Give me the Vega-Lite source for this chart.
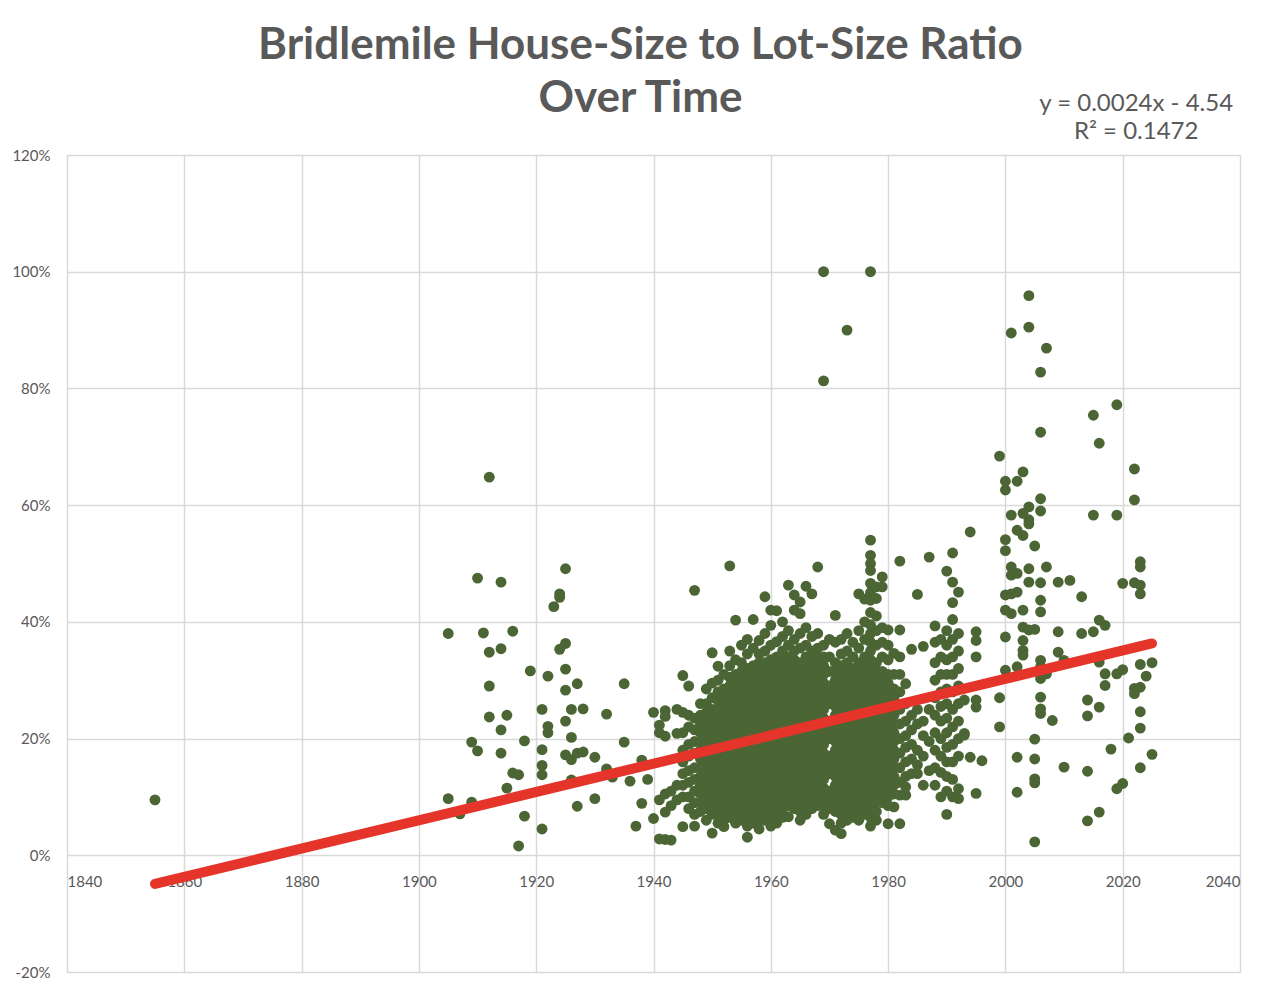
{
  "$schema": "https://vega.github.io/schema/vega-lite/v6.json",
  "width": 1173,
  "height": 817,
  "autosize": {"type": "none"},
  "padding": {"left": 67, "top": 155, "right": 44, "bottom": 20},
  "background": "white",
  "title": {
    "text": ["Bridlemile House-Size to Lot-Size Ratio", "Over Time"],
    "anchor": "middle",
    "dx": -13,
    "offset": -29,
    "font": "Lato",
    "fontSize": 44,
    "fontWeight": "bold",
    "color": "#595959",
    "lineHeight": 53
  },
  "datasets": {
    "points": [
      {"year":1855,"ratio":0.095},
      {"year":1905,"ratio":0.38},{"year":1905,"ratio":0.097},
      {"year":1907,"ratio":0.071},
      {"year":1909,"ratio":0.194},{"year":1909,"ratio":0.091},
      {"year":1910,"ratio":0.475},{"year":1910,"ratio":0.179},
      {"year":1911,"ratio":0.381},
      {"year":1912,"ratio":0.648},{"year":1912,"ratio":0.348},{"year":1912,"ratio":0.29},{"year":1912,"ratio":0.237},
      {"year":1914,"ratio":0.468},{"year":1914,"ratio":0.354},{"year":1914,"ratio":0.215},{"year":1914,"ratio":0.175},
      {"year":1915,"ratio":0.24},{"year":1915,"ratio":0.115},
      {"year":1916,"ratio":0.384},{"year":1916,"ratio":0.141},
      {"year":1917,"ratio":0.138},{"year":1917,"ratio":0.016},
      {"year":1918,"ratio":0.196},{"year":1918,"ratio":0.067},
      {"year":1919,"ratio":0.316},
      {"year":1921,"ratio":0.25},{"year":1921,"ratio":0.181},{"year":1921,"ratio":0.154},{"year":1921,"ratio":0.138},{"year":1921,"ratio":0.045},
      {"year":1922,"ratio":0.307},{"year":1922,"ratio":0.221},{"year":1922,"ratio":0.21},
      {"year":1923,"ratio":0.426},
      {"year":1924,"ratio":0.448},{"year":1924,"ratio":0.442},{"year":1924,"ratio":0.353},
      {"year":1925,"ratio":0.491},{"year":1925,"ratio":0.363},{"year":1925,"ratio":0.319},{"year":1925,"ratio":0.283},{"year":1925,"ratio":0.23},{"year":1925,"ratio":0.172},
      {"year":1926,"ratio":0.25},{"year":1926,"ratio":0.202},{"year":1926,"ratio":0.164},{"year":1926,"ratio":0.129},
      {"year":1927,"ratio":0.294},{"year":1927,"ratio":0.175},{"year":1927,"ratio":0.084},
      {"year":1928,"ratio":0.251},{"year":1928,"ratio":0.177},
      {"year":1930,"ratio":0.168},{"year":1930,"ratio":0.097},
      {"year":1932,"ratio":0.242},{"year":1932,"ratio":0.148},
      {"year":1933,"ratio":0.134},
      {"year":1935,"ratio":0.294},{"year":1935,"ratio":0.194},
      {"year":1936,"ratio":0.127},
      {"year":1937,"ratio":0.05},
      {"year":1938,"ratio":0.163},{"year":1938,"ratio":0.089},
      {"year":1939,"ratio":0.13},
      {"year":1940,"ratio":0.245},{"year":1940,"ratio":0.063},
      {"year":1941,"ratio":0.223},{"year":1941,"ratio":0.21},{"year":1941,"ratio":0.095},{"year":1941,"ratio":0.028},
      {"year":1942,"ratio":0.248},{"year":1942,"ratio":0.238},{"year":1942,"ratio":0.204},{"year":1942,"ratio":0.105},{"year":1942,"ratio":0.074},{"year":1942,"ratio":0.027},
      {"year":1943,"ratio":0.11},{"year":1943,"ratio":0.085},{"year":1943,"ratio":0.026},
      {"year":1944,"ratio":0.25},{"year":1944,"ratio":0.209},{"year":1944,"ratio":0.12},{"year":1944,"ratio":0.095},
      {"year":1945,"ratio":0.308},{"year":1945,"ratio":0.245},{"year":1945,"ratio":0.21},{"year":1945,"ratio":0.18},{"year":1945,"ratio":0.16},{"year":1945,"ratio":0.14},{"year":1945,"ratio":0.12},{"year":1945,"ratio":0.10},{"year":1945,"ratio":0.049},
      {"year":1946,"ratio":0.29},{"year":1946,"ratio":0.24},{"year":1946,"ratio":0.22},{"year":1946,"ratio":0.19},{"year":1946,"ratio":0.17},{"year":1946,"ratio":0.145},{"year":1946,"ratio":0.125},{"year":1946,"ratio":0.10},{"year":1946,"ratio":0.08},
      {"year":1947,"ratio":0.454},{"year":1947,"ratio":0.235},{"year":1947,"ratio":0.215},{"year":1947,"ratio":0.195},{"year":1947,"ratio":0.175},{"year":1947,"ratio":0.15},{"year":1947,"ratio":0.13},{"year":1947,"ratio":0.11},{"year":1947,"ratio":0.09},{"year":1947,"ratio":0.07},{"year":1947,"ratio":0.05},
      {"year":1948,"ratio":0.075},{"year":1948,"ratio":0.09},{"year":1948,"ratio":0.105},{"year":1948,"ratio":0.12},{"year":1948,"ratio":0.135},{"year":1948,"ratio":0.15},{"year":1948,"ratio":0.165},{"year":1948,"ratio":0.18},{"year":1948,"ratio":0.195},{"year":1948,"ratio":0.21},{"year":1948,"ratio":0.225},{"year":1948,"ratio":0.24},{"year":1948,"ratio":0.26},
      {"year":1949,"ratio":0.06},{"year":1949,"ratio":0.08},{"year":1949,"ratio":0.095},{"year":1949,"ratio":0.11},{"year":1949,"ratio":0.125},{"year":1949,"ratio":0.14},{"year":1949,"ratio":0.155},{"year":1949,"ratio":0.17},{"year":1949,"ratio":0.185},{"year":1949,"ratio":0.20},{"year":1949,"ratio":0.215},{"year":1949,"ratio":0.23},{"year":1949,"ratio":0.245},{"year":1949,"ratio":0.26},{"year":1949,"ratio":0.285},
      {"year":1950,"ratio":0.038},{"year":1950,"ratio":0.07},{"year":1950,"ratio":0.085},{"year":1950,"ratio":0.10},{"year":1950,"ratio":0.115},{"year":1950,"ratio":0.13},{"year":1950,"ratio":0.145},{"year":1950,"ratio":0.16},{"year":1950,"ratio":0.175},{"year":1950,"ratio":0.19},{"year":1950,"ratio":0.205},{"year":1950,"ratio":0.22},{"year":1950,"ratio":0.235},{"year":1950,"ratio":0.25},{"year":1950,"ratio":0.27},{"year":1950,"ratio":0.295},{"year":1950,"ratio":0.347},
      {"year":1951,"ratio":0.055},{"year":1951,"ratio":0.07},{"year":1951,"ratio":0.085},{"year":1951,"ratio":0.10},{"year":1951,"ratio":0.115},{"year":1951,"ratio":0.13},{"year":1951,"ratio":0.145},{"year":1951,"ratio":0.16},{"year":1951,"ratio":0.175},{"year":1951,"ratio":0.19},{"year":1951,"ratio":0.205},{"year":1951,"ratio":0.22},{"year":1951,"ratio":0.235},{"year":1951,"ratio":0.25},{"year":1951,"ratio":0.265},{"year":1951,"ratio":0.28},{"year":1951,"ratio":0.30},{"year":1951,"ratio":0.324},
      {"year":1952,"ratio":0.049},{"year":1952,"ratio":0.06},{"year":1952,"ratio":0.075},{"year":1952,"ratio":0.09},{"year":1952,"ratio":0.105},{"year":1952,"ratio":0.12},{"year":1952,"ratio":0.135},{"year":1952,"ratio":0.15},{"year":1952,"ratio":0.165},{"year":1952,"ratio":0.18},{"year":1952,"ratio":0.195},{"year":1952,"ratio":0.21},{"year":1952,"ratio":0.225},{"year":1952,"ratio":0.24},{"year":1952,"ratio":0.255},{"year":1952,"ratio":0.27},{"year":1952,"ratio":0.285},{"year":1952,"ratio":0.31},
      {"year":1953,"ratio":0.065},{"year":1953,"ratio":0.08},{"year":1953,"ratio":0.095},{"year":1953,"ratio":0.11},{"year":1953,"ratio":0.125},{"year":1953,"ratio":0.14},{"year":1953,"ratio":0.155},{"year":1953,"ratio":0.17},{"year":1953,"ratio":0.185},{"year":1953,"ratio":0.20},{"year":1953,"ratio":0.215},{"year":1953,"ratio":0.23},{"year":1953,"ratio":0.245},{"year":1953,"ratio":0.26},{"year":1953,"ratio":0.275},{"year":1953,"ratio":0.29},{"year":1953,"ratio":0.305},{"year":1953,"ratio":0.325},{"year":1953,"ratio":0.35},{"year":1953,"ratio":0.496},
      {"year":1954,"ratio":0.055},{"year":1954,"ratio":0.07},{"year":1954,"ratio":0.085},{"year":1954,"ratio":0.10},{"year":1954,"ratio":0.115},{"year":1954,"ratio":0.13},{"year":1954,"ratio":0.145},{"year":1954,"ratio":0.16},{"year":1954,"ratio":0.175},{"year":1954,"ratio":0.19},{"year":1954,"ratio":0.205},{"year":1954,"ratio":0.22},{"year":1954,"ratio":0.235},{"year":1954,"ratio":0.25},{"year":1954,"ratio":0.265},{"year":1954,"ratio":0.28},{"year":1954,"ratio":0.295},{"year":1954,"ratio":0.31},{"year":1954,"ratio":0.335},{"year":1954,"ratio":0.403},
      {"year":1955,"ratio":0.06},{"year":1955,"ratio":0.075},{"year":1955,"ratio":0.09},{"year":1955,"ratio":0.105},{"year":1955,"ratio":0.12},{"year":1955,"ratio":0.135},{"year":1955,"ratio":0.15},{"year":1955,"ratio":0.165},{"year":1955,"ratio":0.18},{"year":1955,"ratio":0.195},{"year":1955,"ratio":0.21},{"year":1955,"ratio":0.225},{"year":1955,"ratio":0.24},{"year":1955,"ratio":0.255},{"year":1955,"ratio":0.27},{"year":1955,"ratio":0.285},{"year":1955,"ratio":0.30},{"year":1955,"ratio":0.315},{"year":1955,"ratio":0.33},{"year":1955,"ratio":0.36},
      {"year":1956,"ratio":0.031},{"year":1956,"ratio":0.05},{"year":1956,"ratio":0.065},{"year":1956,"ratio":0.08},{"year":1956,"ratio":0.095},{"year":1956,"ratio":0.11},{"year":1956,"ratio":0.125},{"year":1956,"ratio":0.14},{"year":1956,"ratio":0.155},{"year":1956,"ratio":0.17},{"year":1956,"ratio":0.185},{"year":1956,"ratio":0.20},{"year":1956,"ratio":0.215},{"year":1956,"ratio":0.23},{"year":1956,"ratio":0.245},{"year":1956,"ratio":0.26},{"year":1956,"ratio":0.275},{"year":1956,"ratio":0.29},{"year":1956,"ratio":0.305},{"year":1956,"ratio":0.32},{"year":1956,"ratio":0.345},{"year":1956,"ratio":0.37},
      {"year":1957,"ratio":0.055},{"year":1957,"ratio":0.07},{"year":1957,"ratio":0.085},{"year":1957,"ratio":0.10},{"year":1957,"ratio":0.115},{"year":1957,"ratio":0.13},{"year":1957,"ratio":0.145},{"year":1957,"ratio":0.16},{"year":1957,"ratio":0.175},{"year":1957,"ratio":0.19},{"year":1957,"ratio":0.205},{"year":1957,"ratio":0.22},{"year":1957,"ratio":0.235},{"year":1957,"ratio":0.25},{"year":1957,"ratio":0.265},{"year":1957,"ratio":0.28},{"year":1957,"ratio":0.295},{"year":1957,"ratio":0.31},{"year":1957,"ratio":0.325},{"year":1957,"ratio":0.355},{"year":1957,"ratio":0.404},
      {"year":1958,"ratio":0.045},{"year":1958,"ratio":0.06},{"year":1958,"ratio":0.075},{"year":1958,"ratio":0.09},{"year":1958,"ratio":0.105},{"year":1958,"ratio":0.12},{"year":1958,"ratio":0.135},{"year":1958,"ratio":0.15},{"year":1958,"ratio":0.165},{"year":1958,"ratio":0.18},{"year":1958,"ratio":0.195},{"year":1958,"ratio":0.21},{"year":1958,"ratio":0.225},{"year":1958,"ratio":0.24},{"year":1958,"ratio":0.255},{"year":1958,"ratio":0.27},{"year":1958,"ratio":0.285},{"year":1958,"ratio":0.30},{"year":1958,"ratio":0.315},{"year":1958,"ratio":0.33},{"year":1958,"ratio":0.345},{"year":1958,"ratio":0.368},
      {"year":1959,"ratio":0.06},{"year":1959,"ratio":0.075},{"year":1959,"ratio":0.09},{"year":1959,"ratio":0.105},{"year":1959,"ratio":0.12},{"year":1959,"ratio":0.135},{"year":1959,"ratio":0.15},{"year":1959,"ratio":0.165},{"year":1959,"ratio":0.18},{"year":1959,"ratio":0.195},{"year":1959,"ratio":0.21},{"year":1959,"ratio":0.225},{"year":1959,"ratio":0.24},{"year":1959,"ratio":0.255},{"year":1959,"ratio":0.27},{"year":1959,"ratio":0.285},{"year":1959,"ratio":0.30},{"year":1959,"ratio":0.315},{"year":1959,"ratio":0.33},{"year":1959,"ratio":0.35},{"year":1959,"ratio":0.38},{"year":1959,"ratio":0.443},
      {"year":1960,"ratio":0.05},{"year":1960,"ratio":0.065},{"year":1960,"ratio":0.08},{"year":1960,"ratio":0.095},{"year":1960,"ratio":0.11},{"year":1960,"ratio":0.125},{"year":1960,"ratio":0.14},{"year":1960,"ratio":0.155},{"year":1960,"ratio":0.17},{"year":1960,"ratio":0.185},{"year":1960,"ratio":0.20},{"year":1960,"ratio":0.215},{"year":1960,"ratio":0.23},{"year":1960,"ratio":0.245},{"year":1960,"ratio":0.26},{"year":1960,"ratio":0.275},{"year":1960,"ratio":0.29},{"year":1960,"ratio":0.305},{"year":1960,"ratio":0.32},{"year":1960,"ratio":0.335},{"year":1960,"ratio":0.36},{"year":1960,"ratio":0.394},{"year":1960,"ratio":0.42},
      {"year":1961,"ratio":0.055},{"year":1961,"ratio":0.07},{"year":1961,"ratio":0.085},{"year":1961,"ratio":0.10},{"year":1961,"ratio":0.115},{"year":1961,"ratio":0.13},{"year":1961,"ratio":0.145},{"year":1961,"ratio":0.16},{"year":1961,"ratio":0.175},{"year":1961,"ratio":0.19},{"year":1961,"ratio":0.205},{"year":1961,"ratio":0.22},{"year":1961,"ratio":0.235},{"year":1961,"ratio":0.25},{"year":1961,"ratio":0.265},{"year":1961,"ratio":0.28},{"year":1961,"ratio":0.295},{"year":1961,"ratio":0.31},{"year":1961,"ratio":0.325},{"year":1961,"ratio":0.34},{"year":1961,"ratio":0.366},{"year":1961,"ratio":0.419},
      {"year":1962,"ratio":0.065},{"year":1962,"ratio":0.08},{"year":1962,"ratio":0.095},{"year":1962,"ratio":0.11},{"year":1962,"ratio":0.125},{"year":1962,"ratio":0.14},{"year":1962,"ratio":0.155},{"year":1962,"ratio":0.17},{"year":1962,"ratio":0.185},{"year":1962,"ratio":0.20},{"year":1962,"ratio":0.215},{"year":1962,"ratio":0.23},{"year":1962,"ratio":0.245},{"year":1962,"ratio":0.26},{"year":1962,"ratio":0.275},{"year":1962,"ratio":0.29},{"year":1962,"ratio":0.305},{"year":1962,"ratio":0.32},{"year":1962,"ratio":0.335},{"year":1962,"ratio":0.35},{"year":1962,"ratio":0.375},{"year":1962,"ratio":0.40},
      {"year":1963,"ratio":0.066},{"year":1963,"ratio":0.085},{"year":1963,"ratio":0.10},{"year":1963,"ratio":0.115},{"year":1963,"ratio":0.13},{"year":1963,"ratio":0.145},{"year":1963,"ratio":0.16},{"year":1963,"ratio":0.175},{"year":1963,"ratio":0.19},{"year":1963,"ratio":0.205},{"year":1963,"ratio":0.22},{"year":1963,"ratio":0.235},{"year":1963,"ratio":0.25},{"year":1963,"ratio":0.265},{"year":1963,"ratio":0.28},{"year":1963,"ratio":0.295},{"year":1963,"ratio":0.31},{"year":1963,"ratio":0.325},{"year":1963,"ratio":0.34},{"year":1963,"ratio":0.36},{"year":1963,"ratio":0.385},{"year":1963,"ratio":0.463},
      {"year":1964,"ratio":0.08},{"year":1964,"ratio":0.095},{"year":1964,"ratio":0.11},{"year":1964,"ratio":0.125},{"year":1964,"ratio":0.14},{"year":1964,"ratio":0.155},{"year":1964,"ratio":0.17},{"year":1964,"ratio":0.185},{"year":1964,"ratio":0.20},{"year":1964,"ratio":0.215},{"year":1964,"ratio":0.23},{"year":1964,"ratio":0.245},{"year":1964,"ratio":0.26},{"year":1964,"ratio":0.275},{"year":1964,"ratio":0.29},{"year":1964,"ratio":0.305},{"year":1964,"ratio":0.32},{"year":1964,"ratio":0.335},{"year":1964,"ratio":0.35},{"year":1964,"ratio":0.37},{"year":1964,"ratio":0.42},{"year":1964,"ratio":0.446},
      {"year":1965,"ratio":0.06},{"year":1965,"ratio":0.075},{"year":1965,"ratio":0.09},{"year":1965,"ratio":0.105},{"year":1965,"ratio":0.12},{"year":1965,"ratio":0.135},{"year":1965,"ratio":0.15},{"year":1965,"ratio":0.165},{"year":1965,"ratio":0.18},{"year":1965,"ratio":0.195},{"year":1965,"ratio":0.21},{"year":1965,"ratio":0.225},{"year":1965,"ratio":0.24},{"year":1965,"ratio":0.255},{"year":1965,"ratio":0.27},{"year":1965,"ratio":0.285},{"year":1965,"ratio":0.30},{"year":1965,"ratio":0.315},{"year":1965,"ratio":0.33},{"year":1965,"ratio":0.355},{"year":1965,"ratio":0.38},{"year":1965,"ratio":0.414},{"year":1965,"ratio":0.434},
      {"year":1966,"ratio":0.07},{"year":1966,"ratio":0.085},{"year":1966,"ratio":0.10},{"year":1966,"ratio":0.115},{"year":1966,"ratio":0.13},{"year":1966,"ratio":0.145},{"year":1966,"ratio":0.16},{"year":1966,"ratio":0.175},{"year":1966,"ratio":0.19},{"year":1966,"ratio":0.205},{"year":1966,"ratio":0.22},{"year":1966,"ratio":0.235},{"year":1966,"ratio":0.25},{"year":1966,"ratio":0.265},{"year":1966,"ratio":0.28},{"year":1966,"ratio":0.295},{"year":1966,"ratio":0.31},{"year":1966,"ratio":0.325},{"year":1966,"ratio":0.34},{"year":1966,"ratio":0.36},{"year":1966,"ratio":0.39},{"year":1966,"ratio":0.461},
      {"year":1967,"ratio":0.08},{"year":1967,"ratio":0.095},{"year":1967,"ratio":0.11},{"year":1967,"ratio":0.125},{"year":1967,"ratio":0.14},{"year":1967,"ratio":0.155},{"year":1967,"ratio":0.17},{"year":1967,"ratio":0.185},{"year":1967,"ratio":0.20},{"year":1967,"ratio":0.215},{"year":1967,"ratio":0.23},{"year":1967,"ratio":0.245},{"year":1967,"ratio":0.26},{"year":1967,"ratio":0.275},{"year":1967,"ratio":0.29},{"year":1967,"ratio":0.305},{"year":1967,"ratio":0.32},{"year":1967,"ratio":0.335},{"year":1967,"ratio":0.35},{"year":1967,"ratio":0.375},{"year":1967,"ratio":0.448},
      {"year":1968,"ratio":0.085},{"year":1968,"ratio":0.10},{"year":1968,"ratio":0.115},{"year":1968,"ratio":0.13},{"year":1968,"ratio":0.145},{"year":1968,"ratio":0.16},{"year":1968,"ratio":0.175},{"year":1968,"ratio":0.19},{"year":1968,"ratio":0.205},{"year":1968,"ratio":0.22},{"year":1968,"ratio":0.235},{"year":1968,"ratio":0.25},{"year":1968,"ratio":0.265},{"year":1968,"ratio":0.28},{"year":1968,"ratio":0.295},{"year":1968,"ratio":0.31},{"year":1968,"ratio":0.325},{"year":1968,"ratio":0.34},{"year":1968,"ratio":0.355},{"year":1968,"ratio":0.38},{"year":1968,"ratio":0.494},
      {"year":1969,"ratio":0.07},{"year":1969,"ratio":0.085},{"year":1969,"ratio":0.10},{"year":1969,"ratio":0.115},{"year":1969,"ratio":0.13},{"year":1969,"ratio":0.145},{"year":1969,"ratio":0.16},{"year":1969,"ratio":0.175},{"year":1969,"ratio":0.19},{"year":1969,"ratio":0.205},{"year":1969,"ratio":0.22},{"year":1969,"ratio":0.235},{"year":1969,"ratio":0.25},{"year":1969,"ratio":0.265},{"year":1969,"ratio":0.28},{"year":1969,"ratio":0.295},{"year":1969,"ratio":0.31},{"year":1969,"ratio":0.325},{"year":1969,"ratio":0.34},{"year":1969,"ratio":0.36},{"year":1969,"ratio":0.813},{"year":1969,"ratio":1.0},
      {"year":1970,"ratio":0.054},{"year":1970,"ratio":0.08},{"year":1970,"ratio":0.095},{"year":1970,"ratio":0.11},{"year":1970,"ratio":0.14},{"year":1970,"ratio":0.155},{"year":1970,"ratio":0.17},{"year":1970,"ratio":0.20},{"year":1970,"ratio":0.215},{"year":1970,"ratio":0.23},{"year":1970,"ratio":0.26},{"year":1970,"ratio":0.275},{"year":1970,"ratio":0.29},{"year":1970,"ratio":0.315},{"year":1970,"ratio":0.34},{"year":1970,"ratio":0.37},
      {"year":1971,"ratio":0.043},{"year":1971,"ratio":0.075},{"year":1971,"ratio":0.09},{"year":1971,"ratio":0.105},{"year":1971,"ratio":0.12},{"year":1971,"ratio":0.135},{"year":1971,"ratio":0.15},{"year":1971,"ratio":0.165},{"year":1971,"ratio":0.18},{"year":1971,"ratio":0.195},{"year":1971,"ratio":0.21},{"year":1971,"ratio":0.225},{"year":1971,"ratio":0.24},{"year":1971,"ratio":0.255},{"year":1971,"ratio":0.27},{"year":1971,"ratio":0.285},{"year":1971,"ratio":0.30},{"year":1971,"ratio":0.315},{"year":1971,"ratio":0.33},{"year":1971,"ratio":0.365},{"year":1971,"ratio":0.411},
      {"year":1972,"ratio":0.037},{"year":1972,"ratio":0.055},{"year":1972,"ratio":0.07},{"year":1972,"ratio":0.085},{"year":1972,"ratio":0.10},{"year":1972,"ratio":0.115},{"year":1972,"ratio":0.13},{"year":1972,"ratio":0.145},{"year":1972,"ratio":0.16},{"year":1972,"ratio":0.175},{"year":1972,"ratio":0.19},{"year":1972,"ratio":0.205},{"year":1972,"ratio":0.22},{"year":1972,"ratio":0.235},{"year":1972,"ratio":0.25},{"year":1972,"ratio":0.265},{"year":1972,"ratio":0.28},{"year":1972,"ratio":0.295},{"year":1972,"ratio":0.31},{"year":1972,"ratio":0.325},{"year":1972,"ratio":0.345},{"year":1972,"ratio":0.37},
      {"year":1973,"ratio":0.06},{"year":1973,"ratio":0.075},{"year":1973,"ratio":0.09},{"year":1973,"ratio":0.105},{"year":1973,"ratio":0.12},{"year":1973,"ratio":0.135},{"year":1973,"ratio":0.15},{"year":1973,"ratio":0.165},{"year":1973,"ratio":0.18},{"year":1973,"ratio":0.195},{"year":1973,"ratio":0.21},{"year":1973,"ratio":0.225},{"year":1973,"ratio":0.24},{"year":1973,"ratio":0.255},{"year":1973,"ratio":0.27},{"year":1973,"ratio":0.285},{"year":1973,"ratio":0.30},{"year":1973,"ratio":0.315},{"year":1973,"ratio":0.33},{"year":1973,"ratio":0.35},{"year":1973,"ratio":0.38},{"year":1973,"ratio":0.90},
      {"year":1974,"ratio":0.065},{"year":1974,"ratio":0.08},{"year":1974,"ratio":0.095},{"year":1974,"ratio":0.11},{"year":1974,"ratio":0.125},{"year":1974,"ratio":0.14},{"year":1974,"ratio":0.155},{"year":1974,"ratio":0.17},{"year":1974,"ratio":0.185},{"year":1974,"ratio":0.20},{"year":1974,"ratio":0.215},{"year":1974,"ratio":0.23},{"year":1974,"ratio":0.245},{"year":1974,"ratio":0.26},{"year":1974,"ratio":0.275},{"year":1974,"ratio":0.29},{"year":1974,"ratio":0.305},{"year":1974,"ratio":0.32},{"year":1974,"ratio":0.34},{"year":1974,"ratio":0.365},
      {"year":1975,"ratio":0.06},{"year":1975,"ratio":0.075},{"year":1975,"ratio":0.09},{"year":1975,"ratio":0.105},{"year":1975,"ratio":0.12},{"year":1975,"ratio":0.135},{"year":1975,"ratio":0.15},{"year":1975,"ratio":0.165},{"year":1975,"ratio":0.18},{"year":1975,"ratio":0.195},{"year":1975,"ratio":0.21},{"year":1975,"ratio":0.225},{"year":1975,"ratio":0.24},{"year":1975,"ratio":0.255},{"year":1975,"ratio":0.27},{"year":1975,"ratio":0.285},{"year":1975,"ratio":0.30},{"year":1975,"ratio":0.315},{"year":1975,"ratio":0.33},{"year":1975,"ratio":0.355},{"year":1975,"ratio":0.385},{"year":1975,"ratio":0.448},
      {"year":1976,"ratio":0.07},{"year":1976,"ratio":0.085},{"year":1976,"ratio":0.10},{"year":1976,"ratio":0.115},{"year":1976,"ratio":0.13},{"year":1976,"ratio":0.145},{"year":1976,"ratio":0.16},{"year":1976,"ratio":0.175},{"year":1976,"ratio":0.19},{"year":1976,"ratio":0.205},{"year":1976,"ratio":0.22},{"year":1976,"ratio":0.235},{"year":1976,"ratio":0.25},{"year":1976,"ratio":0.265},{"year":1976,"ratio":0.28},{"year":1976,"ratio":0.295},{"year":1976,"ratio":0.31},{"year":1976,"ratio":0.325},{"year":1976,"ratio":0.34},{"year":1976,"ratio":0.37},{"year":1976,"ratio":0.40},{"year":1976,"ratio":0.439},
      {"year":1977,"ratio":1.0},{"year":1977,"ratio":0.54},{"year":1977,"ratio":0.514},{"year":1977,"ratio":0.50},{"year":1977,"ratio":0.488},{"year":1977,"ratio":0.466},{"year":1977,"ratio":0.45},{"year":1977,"ratio":0.437},{"year":1977,"ratio":0.416},{"year":1977,"ratio":0.395},{"year":1977,"ratio":0.38},{"year":1977,"ratio":0.365},{"year":1977,"ratio":0.35},{"year":1977,"ratio":0.335},{"year":1977,"ratio":0.32},{"year":1977,"ratio":0.305},{"year":1977,"ratio":0.29},{"year":1977,"ratio":0.275},{"year":1977,"ratio":0.26},{"year":1977,"ratio":0.245},{"year":1977,"ratio":0.23},{"year":1977,"ratio":0.215},{"year":1977,"ratio":0.20},{"year":1977,"ratio":0.185},{"year":1977,"ratio":0.17},{"year":1977,"ratio":0.155},{"year":1977,"ratio":0.14},{"year":1977,"ratio":0.125},{"year":1977,"ratio":0.11},{"year":1977,"ratio":0.095},{"year":1977,"ratio":0.08},{"year":1977,"ratio":0.065},{"year":1977,"ratio":0.05},
      {"year":1978,"ratio":0.06},{"year":1978,"ratio":0.075},{"year":1978,"ratio":0.09},{"year":1978,"ratio":0.105},{"year":1978,"ratio":0.12},{"year":1978,"ratio":0.135},{"year":1978,"ratio":0.15},{"year":1978,"ratio":0.165},{"year":1978,"ratio":0.18},{"year":1978,"ratio":0.195},{"year":1978,"ratio":0.21},{"year":1978,"ratio":0.225},{"year":1978,"ratio":0.24},{"year":1978,"ratio":0.255},{"year":1978,"ratio":0.27},{"year":1978,"ratio":0.285},{"year":1978,"ratio":0.30},{"year":1978,"ratio":0.315},{"year":1978,"ratio":0.33},{"year":1978,"ratio":0.36},{"year":1978,"ratio":0.385},{"year":1978,"ratio":0.41},{"year":1978,"ratio":0.44},{"year":1978,"ratio":0.46},
      {"year":1979,"ratio":0.09},{"year":1979,"ratio":0.105},{"year":1979,"ratio":0.12},{"year":1979,"ratio":0.135},{"year":1979,"ratio":0.15},{"year":1979,"ratio":0.165},{"year":1979,"ratio":0.18},{"year":1979,"ratio":0.195},{"year":1979,"ratio":0.21},{"year":1979,"ratio":0.225},{"year":1979,"ratio":0.24},{"year":1979,"ratio":0.255},{"year":1979,"ratio":0.27},{"year":1979,"ratio":0.285},{"year":1979,"ratio":0.30},{"year":1979,"ratio":0.315},{"year":1979,"ratio":0.34},{"year":1979,"ratio":0.365},{"year":1979,"ratio":0.39},{"year":1979,"ratio":0.46},{"year":1979,"ratio":0.477},
      {"year":1980,"ratio":0.054},{"year":1980,"ratio":0.085},{"year":1980,"ratio":0.10},{"year":1980,"ratio":0.115},{"year":1980,"ratio":0.13},{"year":1980,"ratio":0.145},{"year":1980,"ratio":0.16},{"year":1980,"ratio":0.175},{"year":1980,"ratio":0.19},{"year":1980,"ratio":0.205},{"year":1980,"ratio":0.22},{"year":1980,"ratio":0.235},{"year":1980,"ratio":0.25},{"year":1980,"ratio":0.265},{"year":1980,"ratio":0.28},{"year":1980,"ratio":0.295},{"year":1980,"ratio":0.31},{"year":1980,"ratio":0.335},{"year":1980,"ratio":0.36},{"year":1980,"ratio":0.386},
      {"year":1981,"ratio":0.083},{"year":1981,"ratio":0.105},{"year":1981,"ratio":0.12},{"year":1981,"ratio":0.135},{"year":1981,"ratio":0.15},{"year":1981,"ratio":0.165},{"year":1981,"ratio":0.18},{"year":1981,"ratio":0.195},{"year":1981,"ratio":0.21},{"year":1981,"ratio":0.225},{"year":1981,"ratio":0.24},{"year":1981,"ratio":0.255},{"year":1981,"ratio":0.27},{"year":1981,"ratio":0.285},{"year":1981,"ratio":0.31},{"year":1981,"ratio":0.346},
      {"year":1982,"ratio":0.504},{"year":1982,"ratio":0.386},{"year":1982,"ratio":0.34},{"year":1982,"ratio":0.31},{"year":1982,"ratio":0.28},{"year":1982,"ratio":0.25},{"year":1982,"ratio":0.225},{"year":1982,"ratio":0.20},{"year":1982,"ratio":0.175},{"year":1982,"ratio":0.15},{"year":1982,"ratio":0.125},{"year":1982,"ratio":0.103},{"year":1982,"ratio":0.054},
      {"year":1983,"ratio":0.294},{"year":1983,"ratio":0.26},{"year":1983,"ratio":0.23},{"year":1983,"ratio":0.205},{"year":1983,"ratio":0.185},{"year":1983,"ratio":0.16},{"year":1983,"ratio":0.135},{"year":1983,"ratio":0.117},{"year":1983,"ratio":0.103},
      {"year":1984,"ratio":0.353},{"year":1984,"ratio":0.24},{"year":1984,"ratio":0.215},{"year":1984,"ratio":0.19},{"year":1984,"ratio":0.165},{"year":1984,"ratio":0.14},
      {"year":1985,"ratio":0.447},{"year":1985,"ratio":0.25},{"year":1985,"ratio":0.225},{"year":1985,"ratio":0.18},{"year":1985,"ratio":0.155},{"year":1985,"ratio":0.14},
      {"year":1986,"ratio":0.358},{"year":1986,"ratio":0.23},{"year":1986,"ratio":0.205},{"year":1986,"ratio":0.17},{"year":1986,"ratio":0.12},
      {"year":1987,"ratio":0.511},{"year":1987,"ratio":0.25},{"year":1987,"ratio":0.195},{"year":1987,"ratio":0.145},
      {"year":1988,"ratio":0.393},{"year":1988,"ratio":0.365},{"year":1988,"ratio":0.33},{"year":1988,"ratio":0.30},{"year":1988,"ratio":0.27},{"year":1988,"ratio":0.24},{"year":1988,"ratio":0.21},{"year":1988,"ratio":0.18},{"year":1988,"ratio":0.15},{"year":1988,"ratio":0.12},
      {"year":1989,"ratio":0.37},{"year":1989,"ratio":0.34},{"year":1989,"ratio":0.31},{"year":1989,"ratio":0.28},{"year":1989,"ratio":0.255},{"year":1989,"ratio":0.23},{"year":1989,"ratio":0.20},{"year":1989,"ratio":0.17},{"year":1989,"ratio":0.142},{"year":1989,"ratio":0.10},
      {"year":1990,"ratio":0.487},{"year":1990,"ratio":0.385},{"year":1990,"ratio":0.36},{"year":1990,"ratio":0.335},{"year":1990,"ratio":0.31},{"year":1990,"ratio":0.285},{"year":1990,"ratio":0.26},{"year":1990,"ratio":0.235},{"year":1990,"ratio":0.21},{"year":1990,"ratio":0.185},{"year":1990,"ratio":0.16},{"year":1990,"ratio":0.135},{"year":1990,"ratio":0.11},{"year":1990,"ratio":0.07},
      {"year":1991,"ratio":0.518},{"year":1991,"ratio":0.468},{"year":1991,"ratio":0.433},{"year":1991,"ratio":0.404},{"year":1991,"ratio":0.37},{"year":1991,"ratio":0.34},{"year":1991,"ratio":0.31},{"year":1991,"ratio":0.28},{"year":1991,"ratio":0.25},{"year":1991,"ratio":0.22},{"year":1991,"ratio":0.19},{"year":1991,"ratio":0.16},{"year":1991,"ratio":0.13},{"year":1991,"ratio":0.10},
      {"year":1992,"ratio":0.451},{"year":1992,"ratio":0.38},{"year":1992,"ratio":0.35},{"year":1992,"ratio":0.32},{"year":1992,"ratio":0.29},{"year":1992,"ratio":0.26},{"year":1992,"ratio":0.23},{"year":1992,"ratio":0.20},{"year":1992,"ratio":0.17},{"year":1992,"ratio":0.114},{"year":1992,"ratio":0.097},
      {"year":1993,"ratio":0.266},{"year":1993,"ratio":0.209},{"year":1993,"ratio":0.206},
      {"year":1994,"ratio":0.554},{"year":1994,"ratio":0.168},
      {"year":1995,"ratio":0.383},{"year":1995,"ratio":0.368},{"year":1995,"ratio":0.34},{"year":1995,"ratio":0.266},{"year":1995,"ratio":0.254},{"year":1995,"ratio":0.106},
      {"year":1996,"ratio":0.162},
      {"year":1999,"ratio":0.684},{"year":1999,"ratio":0.27},{"year":1999,"ratio":0.22},
      {"year":2000,"ratio":0.641},{"year":2000,"ratio":0.626},{"year":2000,"ratio":0.541},{"year":2000,"ratio":0.522},{"year":2000,"ratio":0.446},{"year":2000,"ratio":0.42},{"year":2000,"ratio":0.374},{"year":2000,"ratio":0.317},
      {"year":2001,"ratio":0.895},{"year":2001,"ratio":0.583},{"year":2001,"ratio":0.494},{"year":2001,"ratio":0.48},{"year":2001,"ratio":0.448},{"year":2001,"ratio":0.414},
      {"year":2002,"ratio":0.641},{"year":2002,"ratio":0.557},{"year":2002,"ratio":0.483},{"year":2002,"ratio":0.451},{"year":2002,"ratio":0.323},{"year":2002,"ratio":0.168},{"year":2002,"ratio":0.108},
      {"year":2003,"ratio":0.657},{"year":2003,"ratio":0.586},{"year":2003,"ratio":0.548},{"year":2003,"ratio":0.42},{"year":2003,"ratio":0.391},{"year":2003,"ratio":0.368},{"year":2003,"ratio":0.351},{"year":2003,"ratio":0.343},
      {"year":2004,"ratio":0.959},{"year":2004,"ratio":0.905},{"year":2004,"ratio":0.597},{"year":2004,"ratio":0.575},{"year":2004,"ratio":0.568},{"year":2004,"ratio":0.491},{"year":2004,"ratio":0.468},{"year":2004,"ratio":0.386},
      {"year":2005,"ratio":0.53},{"year":2005,"ratio":0.387},{"year":2005,"ratio":0.199},{"year":2005,"ratio":0.165},{"year":2005,"ratio":0.131},{"year":2005,"ratio":0.124},{"year":2005,"ratio":0.023},
      {"year":2006,"ratio":0.828},{"year":2006,"ratio":0.725},{"year":2006,"ratio":0.611},{"year":2006,"ratio":0.59},{"year":2006,"ratio":0.467},{"year":2006,"ratio":0.437},{"year":2006,"ratio":0.417},{"year":2006,"ratio":0.334},{"year":2006,"ratio":0.323},{"year":2006,"ratio":0.303},{"year":2006,"ratio":0.271},{"year":2006,"ratio":0.251},{"year":2006,"ratio":0.243},
      {"year":2007,"ratio":0.869},{"year":2007,"ratio":0.494},{"year":2007,"ratio":0.311},
      {"year":2008,"ratio":0.231},
      {"year":2009,"ratio":0.468},{"year":2009,"ratio":0.383},{"year":2009,"ratio":0.348},
      {"year":2010,"ratio":0.334},{"year":2010,"ratio":0.151},
      {"year":2011,"ratio":0.471},
      {"year":2013,"ratio":0.443},{"year":2013,"ratio":0.38},
      {"year":2014,"ratio":0.266},{"year":2014,"ratio":0.239},{"year":2014,"ratio":0.144},{"year":2014,"ratio":0.059},
      {"year":2015,"ratio":0.754},{"year":2015,"ratio":0.583},{"year":2015,"ratio":0.383},
      {"year":2016,"ratio":0.706},{"year":2016,"ratio":0.403},{"year":2016,"ratio":0.331},{"year":2016,"ratio":0.254},{"year":2016,"ratio":0.074},
      {"year":2017,"ratio":0.394},{"year":2017,"ratio":0.311},{"year":2017,"ratio":0.291},
      {"year":2018,"ratio":0.182},
      {"year":2019,"ratio":0.772},{"year":2019,"ratio":0.583},{"year":2019,"ratio":0.311},{"year":2019,"ratio":0.114},
      {"year":2020,"ratio":0.466},{"year":2020,"ratio":0.318},{"year":2020,"ratio":0.123},
      {"year":2021,"ratio":0.201},
      {"year":2022,"ratio":0.662},{"year":2022,"ratio":0.609},{"year":2022,"ratio":0.467},{"year":2022,"ratio":0.286},{"year":2022,"ratio":0.277},
      {"year":2023,"ratio":0.503},{"year":2023,"ratio":0.494},{"year":2023,"ratio":0.463},{"year":2023,"ratio":0.448},{"year":2023,"ratio":0.327},{"year":2023,"ratio":0.288},{"year":2023,"ratio":0.246},{"year":2023,"ratio":0.218},{"year":2023,"ratio":0.15},
      {"year":2024,"ratio":0.307},
      {"year":2025,"ratio":0.33},{"year":2025,"ratio":0.173}
    ],
    "trend": [
      {"year":1855,"ratio":-0.049},
      {"year":2025,"ratio":0.363}
    ]
  },
  "layer": [
    {
      "data": {"name": "points"},
      "mark": {"type": "circle", "size": 118, "opacity": 1, "color": "#4B6535"},
      "encoding": {
        "x": {
          "field": "year",
          "type": "quantitative",
          "scale": {"domain": [1840, 2040], "nice": false, "zero": false},
          "axis": {
            "values": [1840, 1860, 1880, 1900, 1920, 1940, 1960, 1980, 2000, 2020, 2040],
            "format": "d",
            "title": null,
            "offset": -117,
            "domain": false,
            "ticks": false,
            "tickSize": 0,
            "labelPadding": 19,
            "labelFont": "Lato",
            "labelFontSize": 15,
            "labelColor": "#595959",
            "grid": true,
            "gridColor": "#d9d9d9",
            "gridWidth": 1.5
          }
        },
        "y": {
          "field": "ratio",
          "type": "quantitative",
          "scale": {"domain": [-0.2, 1.2], "nice": false, "zero": false},
          "axis": {
            "values": [-0.2, 0, 0.2, 0.4, 0.6, 0.8, 1.0, 1.2],
            "labelExpr": "round(datum.value * 100) + '%'",
            "title": null,
            "domain": false,
            "ticks": false,
            "tickSize": 0,
            "labelPadding": 17,
            "labelFont": "Lato",
            "labelFontSize": 15,
            "labelColor": "#595959",
            "grid": true,
            "gridColor": "#d9d9d9",
            "gridWidth": 1.5
          }
        }
      }
    },
    {
      "data": {"name": "trend"},
      "mark": {"type": "line", "color": "#E5352B", "strokeWidth": 10, "strokeCap": "round"},
      "encoding": {
        "x": {"field": "year", "type": "quantitative"},
        "y": {"field": "ratio", "type": "quantitative"}
      }
    },
    {
      "data": {"values": [{}]},
      "mark": {
        "type": "text",
        "font": "Lato",
        "fontSize": 24,
        "color": "#595959",
        "align": "center",
        "baseline": "alphabetic",
        "lineHeight": 28
      },
      "encoding": {
        "x": {"datum": 2022.3},
        "y": {"datum": 1.275},
        "text": {"value": ["y = 0.0024x - 4.54", "R² = 0.1472"]}
      }
    }
  ],
  "config": {
    "view": {"stroke": null}
  }
}
